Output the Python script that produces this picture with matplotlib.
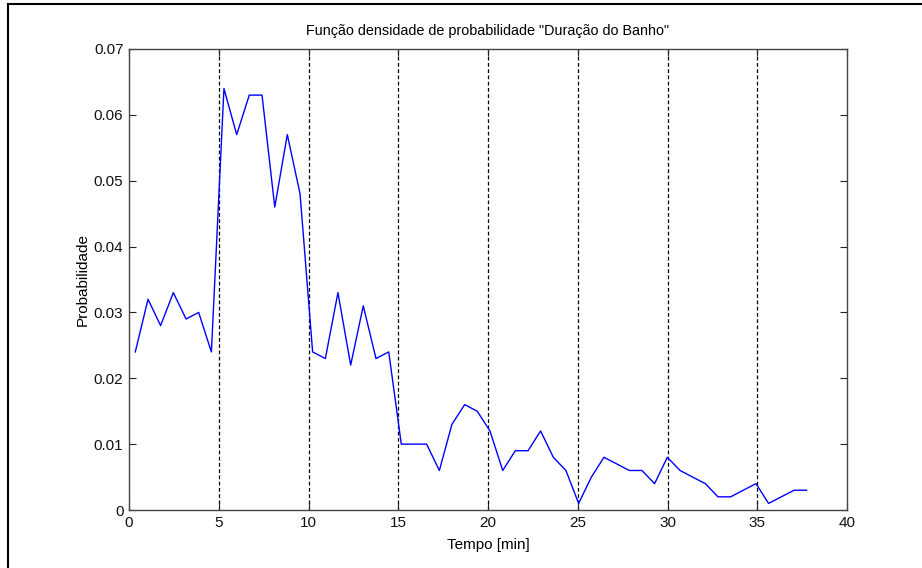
import matplotlib
matplotlib.use("Agg")
import matplotlib.pyplot as plt
from matplotlib.lines import Line2D

# bin centres (min) and probability of each bin
tempo = [
    0.35, 1.06, 1.76, 2.47, 3.18, 3.88, 4.59, 5.29, 6.00, 6.70,
    7.41, 8.12, 8.82, 9.53, 10.23, 10.94, 11.64, 12.35, 13.05, 13.76,
    14.47, 15.17, 15.88, 16.58, 17.29, 17.99, 18.70, 19.40, 20.11, 20.82,
    21.52, 22.23, 22.93, 23.64, 24.34, 25.05, 25.76, 26.46, 27.17, 27.87,
    28.58, 29.28, 29.99, 30.70, 31.40, 32.11, 32.81, 33.52, 34.22, 34.93,
    35.63, 36.34, 37.05, 37.75,
]
prob = [
    0.024, 0.032, 0.028, 0.033, 0.029, 0.030, 0.024, 0.064, 0.057, 0.063,
    0.063, 0.046, 0.057, 0.048, 0.024, 0.023, 0.033, 0.022, 0.031, 0.023,
    0.024, 0.010, 0.010, 0.010, 0.006, 0.013, 0.016, 0.015, 0.012, 0.006,
    0.009, 0.009, 0.012, 0.008, 0.006, 0.001, 0.005, 0.008, 0.007, 0.006,
    0.006, 0.004, 0.008, 0.006, 0.005, 0.004, 0.002, 0.002, 0.003, 0.004,
    0.001, 0.002, 0.003, 0.003,
]
xticks = [0, 5, 10, 15, 20, 25, 30, 35, 40]
yticks = [0, 0.01, 0.02, 0.03, 0.04, 0.05, 0.06, 0.07]
ytick_labels = ["0", "0.01", "0.02", "0.03", "0.04", "0.05", "0.06", "0.07"]

plt.rcParams["font.family"] = ["Liberation Sans", "DejaVu Sans"]
plt.rcParams["font.size"] = 11

W, H = 922, 568
fig = plt.figure(figsize=(W / 100, H / 100), dpi=100)
ax = fig.add_axes([129 / W, 1 - 510 / H, (847 - 129) / W, (510 - 49) / H])

ax.plot(tempo, prob, color="#0000ff", lw=1.0)

ax.set_xlim(0, 40)
ax.set_ylim(0, 0.07)
ax.set_xticks(xticks)
ax.set_yticks(yticks)
ax.set_yticklabels(ytick_labels)
ax.tick_params(direction="in", length=5, width=0.8, top=True, right=True,
               colors="#222222", labelcolor="#111111", pad=4)
for sp in ax.spines.values():
    sp.set_color("#444444")
    sp.set_linewidth(1.0)

for x in xticks[1:-1]:
    ax.axvline(x, color="black", lw=0.9, ls=(0, (3, 2)), zorder=0)

ax.set_title('Função densidade de probabilidade "Duração do Banho"', fontsize=10.4, pad=10)
ax.set_xlabel("Tempo [min]", labelpad=6)
ax.set_ylabel("Probabilidade", labelpad=3)

# window frame on the left and top edges
fig.add_artist(Line2D([7.5 / W, 7.5 / W], [0, 1 - 3.5 / H], transform=fig.transFigure,
                      color="black", lw=1.5))
fig.add_artist(Line2D([7.5 / W, 1], [1 - 3.5 / H, 1 - 3.5 / H], transform=fig.transFigure,
                      color="black", lw=1.5))

fig.savefig("out.png", dpi=100)
